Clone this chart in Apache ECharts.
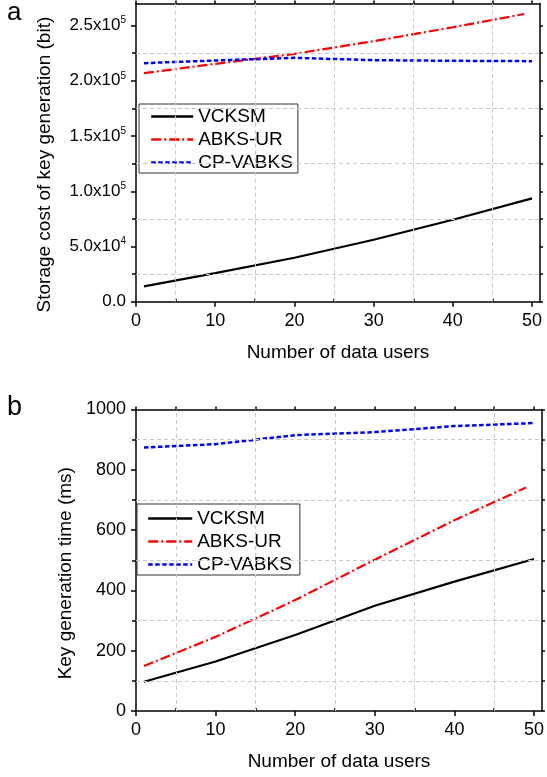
<!DOCTYPE html>
<html>
<head>
<meta charset="utf-8">
<script src="https://cdn.jsdelivr.net/npm/echarts@6/dist/echarts.min.js"></script>
<style>
  html, body { margin: 0; padding: 0; background: #fff; }
  #chart { width: 547px; height: 777px; }
</style>
</head>
<body>
<div id="chart"></div>
<script>
// values
const users = [1, 10, 20, 30, 40, 50];
const usersAbks = [1, 10, 20, 30, 40, 49];

const storageVcksm = [13900, 25900, 39800, 56100, 74200, 93500];
const storageAbks = [206900, 215400, 224400, 235900, 248500, 260500];
const storageCp = [216000, 218400, 220800, 218700, 218100, 217800];

const timeVcksm = [97, 164, 252, 349, 429, 504];
const timeAbks = [149, 246, 368, 502, 633, 741];
const timeCp = [874, 885, 915, 925, 945, 955];

const xTicks = [0, 10, 20, 30, 40, 50];
const xMinor = [5, 15, 25, 35, 45];
const xAll = [0, 5, 10, 15, 20, 25, 30, 35, 40, 45, 50];
const yTicksA = [0, 50000, 100000, 150000, 200000, 250000];
const yMinorA = [25000, 75000, 125000, 175000, 225000];
const yTicksB = [0, 200, 400, 600, 800, 1000];
const yMinorB = [100, 300, 500, 700, 900];

const names = ['VCKSM', 'ABKS-UR', 'CP-VABKS'];
const FONT = 'Liberation Sans, Arial, sans-serif';

const zip = (xs, ys) => xs.map((x, i) => [x, ys[i]]);

const chart = echarts.init(document.getElementById('chart'));

const axisLineStyle = { color: '#000', width: 1.5 };

function xAxes(g, name, nameGap) {
  return [
    {
      type: 'value', gridIndex: g, min: 0, max: 51, position: 'bottom',
      axisLine: { show: true, onZero: false, lineStyle: axisLineStyle },
      axisTick: { show: true, customValues: xTicks, length: 5, lineStyle: axisLineStyle },
      axisLabel: { customValues: xTicks, margin: 10, fontSize: 18, color: '#000', fontFamily: FONT },
      splitLine: { show: false },
      name: name, nameLocation: 'middle', nameGap: nameGap,
      nameTextStyle: { fontSize: 19, color: '#000', fontFamily: FONT }
    },
    {
      type: 'value', gridIndex: g, min: 0, max: 51, position: 'bottom',
      axisLine: { show: false },
      axisTick: { show: true, customValues: xMinor, inside: true, length: 3, lineStyle: axisLineStyle },
      axisLabel: { show: false, customValues: xMinor },
      splitLine: { show: false }
    },
    {
      type: 'value', gridIndex: g, min: 0, max: 51, position: 'top',
      axisLine: { show: true, onZero: false, lineStyle: axisLineStyle },
      axisTick: { show: true, customValues: xAll, length: 3, lineStyle: axisLineStyle },
      axisLabel: { show: false, customValues: xAll },
      splitLine: { show: false }
    }
  ];
}

function yAxes(g, max, ticks, minor, name, nameGap, namePad, label) {
  const all = ticks.concat(minor).sort((a, b) => a - b);
  return [
    {
      type: 'value', gridIndex: g, min: 0, max: max, position: 'left',
      axisLine: { show: true, onZero: false, lineStyle: axisLineStyle },
      axisTick: { show: true, customValues: ticks, length: 5, lineStyle: axisLineStyle },
      axisLabel: Object.assign({ customValues: ticks, margin: 10, fontSize: 18, color: '#000', fontFamily: FONT }, label),
      splitLine: { show: false },
      name: name, nameLocation: 'middle', nameGap: nameGap, nameRotate: 90,
      nameTextStyle: { fontSize: 19, color: '#000', fontFamily: FONT, padding: namePad }
    },
    {
      type: 'value', gridIndex: g, min: 0, max: max, position: 'left',
      axisLine: { show: false },
      axisTick: { show: true, customValues: minor, length: 4, lineStyle: axisLineStyle },
      axisLabel: { show: false, customValues: minor },
      splitLine: { show: false }
    },
    {
      type: 'value', gridIndex: g, min: 0, max: max, position: 'right',
      axisLine: { show: true, onZero: false, lineStyle: axisLineStyle },
      axisTick: { show: true, customValues: all, length: 3, lineStyle: axisLineStyle },
      axisLabel: { show: false, customValues: all },
      splitLine: { show: false }
    }
  ];
}

function sciLabel(v) {
  if (v === 0) return '0.0';
  const e = Math.floor(Math.log10(v) + 1e-9);
  const m = (v / Math.pow(10, e)).toFixed(1);
  return '{m|' + m + 'x10}{e|' + e + '}';
}

function gridSeries(xi, yi, xs, ys) {
  return {
    type: 'line', xAxisIndex: xi, yAxisIndex: yi, data: [], silent: true, z: 1,
    markLine: {
      silent: true, symbol: ['none', 'none'], label: { show: false }, animation: false,
      lineStyle: { color: '#c8c8c8', type: [4, 3], width: 1 },
      data: xs.map(v => ({ xAxis: v })).concat(ys.map(v => ({ yAxis: v })))
    }
  };
}

function lineSeries(name, xi, yi, data) {
  const styles = {
    'VCKSM': { color: '#000000', width: 2.2, type: 'solid' },
    'ABKS-UR': { color: '#ff0000', width: 2.2, type: [10, 3, 2, 3] },
    'CP-VABKS': { color: '#0000ff', width: 2.5, type: [4.5, 2.5] }
  };
  return {
    name: name, type: 'line', xAxisIndex: xi, yAxisIndex: yi, data: data,
    symbol: 'none', showSymbol: false, z: 3,
    lineStyle: styles[name], itemStyle: { color: styles[name].color }
  };
}

function legend(left, top, itemWidth, padding) {
  return {
    orient: 'vertical', left: left, top: top, data: names, selectedMode: false,
    itemWidth: itemWidth, itemHeight: 14, itemGap: 4, padding: padding,
    borderColor: '#333', borderWidth: 1, backgroundColor: '#fff',
    itemStyle: { opacity: 0, borderWidth: 0 },
    lineStyle: { width: 2.4 },
    textStyle: { fontSize: 19, color: '#000', fontFamily: FONT }
  };
}

const option = {
  animation: false,
  backgroundColor: '#fff',
  grid: [
    { left: 136, top: 3.5, width: 404, height: 298.2 },
    { left: 136, top: 409.5, width: 410, height: 301.5 }
  ],
  xAxis: xAxes(0, 'Number of data users', 42).concat(xAxes(1, 'Number of data users', 41)),
  yAxis: yAxes(0, 270000, yTicksA, yMinorA, 'Storage cost of key generation (bit)', 82, [0, 24, 0, 0], {
    fontSize: 17,
    formatter: sciLabel,
    rich: {
      m: { fontSize: 17, lineHeight: 20, fontFamily: FONT, color: '#000' },
      e: { fontSize: 10, lineHeight: 10, fontFamily: FONT, color: '#000', verticalAlign: 'top' }
    }
  }).concat(yAxes(1, 1000, yTicksB, yMinorB, 'Key generation time (ms)', 61, [0, 26, 0, 0], {
    formatter: v => String(v)
  })),
  legend: [
    legend(139, 104, 42, [3, 5, 1, 11]),
    legend(137, 504, 44, [5, 8, 1, 10])
  ],
  graphic: [
    { type: 'text', left: 7, top: 0, style: { text: 'a', font: '26px ' + FONT, fill: '#000' } },
    { type: 'text', left: 7, top: 394, style: { text: 'b', font: '27px ' + FONT, fill: '#000' } }
  ],
  series: [
    gridSeries(0, 0, xMinor, yMinorA),
    lineSeries('VCKSM', 0, 0, zip(users, storageVcksm)),
    lineSeries('ABKS-UR', 0, 0, zip(usersAbks, storageAbks)),
    lineSeries('CP-VABKS', 0, 0, zip(users, storageCp)),
    gridSeries(3, 3, xMinor, yMinorB),
    lineSeries('VCKSM', 3, 3, zip(users, timeVcksm)),
    lineSeries('ABKS-UR', 3, 3, zip(usersAbks, timeAbks)),
    lineSeries('CP-VABKS', 3, 3, zip(users, timeCp))
  ]
};

chart.setOption(option);
</script>
</body>
</html>
